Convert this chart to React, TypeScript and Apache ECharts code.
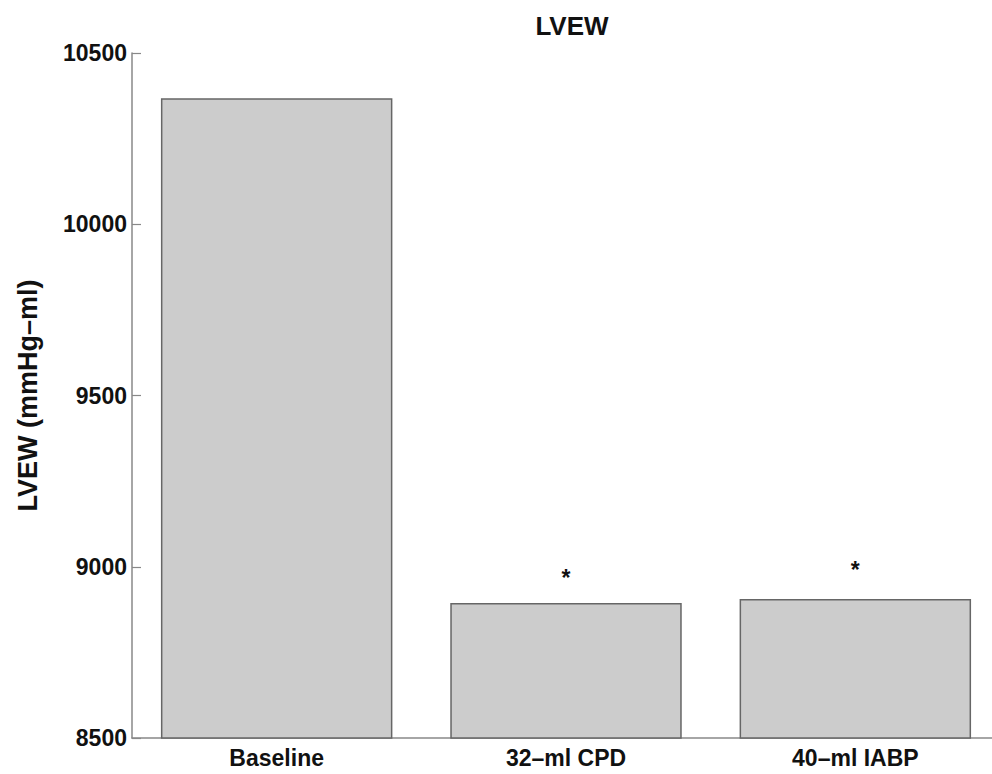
import React, { useEffect, useRef } from "react";
import * as echarts from "echarts";

const categories = ["Baseline", "32–ml CPD", "40–ml IABP"];
const values = [10368, 8894, 8906];
const markers = ["", "*", "*"];
const yTicks = { min: 8500, max: 10500, interval: 500 };

export default function App() {
  const ref = useRef<HTMLDivElement>(null);
  useEffect(() => {
    const chart = echarts.init(ref.current!, null, { renderer: "svg" });
    const font = "'Liberation Sans', Arial, Helvetica, sans-serif";
    const markerDistance = [0, 14, 17];
    chart.setOption({
      animation: false,
      backgroundColor: "#ffffff",
      title: {
        text: "LVEW",
        left: 567,
        top: 8,
        textAlign: "center",
        textStyle: { fontFamily: font, fontWeight: "bold", fontSize: 26, color: "#111" },
      },
      grid: { left: 132, right: 0, top: 53, bottom: 36, containLabel: false },
      xAxis: {
        type: "category",
        data: categories,
        axisLine: { lineStyle: { color: "#888", width: 1.5 } },
        axisTick: { show: false },
        axisLabel: { fontFamily: font, fontWeight: "bold", fontSize: 23, color: "#111", margin: 8 },
      },
      yAxis: {
        type: "value",
        min: yTicks.min,
        max: yTicks.max,
        interval: yTicks.interval,
        name: "LVEW (mmHg–ml)",
        nameLocation: "middle",
        nameGap: 91,
        nameTextStyle: { fontFamily: font, fontWeight: "bold", fontSize: 27, color: "#111" },
        axisLine: { show: true, lineStyle: { color: "#888", width: 1.5 } },
        axisTick: { show: true, inside: true, length: 9, lineStyle: { color: "#888", width: 1.2 } },
        splitLine: { show: false },
        axisLabel: {
          fontFamily: font,
          fontWeight: "bold",
          fontSize: 23,
          color: "#111",
          margin: 5,
          formatter: (v: number) => String(v),
        },
      },
      series: [
        {
          type: "bar",
          barCategoryGap: "20%",
          data: values.map((v, i) => ({
            value: v,
            label: {
              show: markers[i] !== "",
              position: "top",
              distance: markerDistance[i],
              formatter: markers[i],
              fontFamily: font,
              fontWeight: "bold",
              fontSize: 23,
              color: "#111",
            },
          })),
          itemStyle: { color: "#cccccc", borderColor: "#666", borderWidth: 1.5 },
        },
      ],
    });
    return () => chart.dispose();
  }, []);
  return (
    <div
      style={{ position: "absolute", left: 0, top: 0, width: 992, height: 774, overflow: "hidden" }}
    >
      <div ref={ref} style={{ width: 1000, height: 774 }} />
    </div>
  );
}
